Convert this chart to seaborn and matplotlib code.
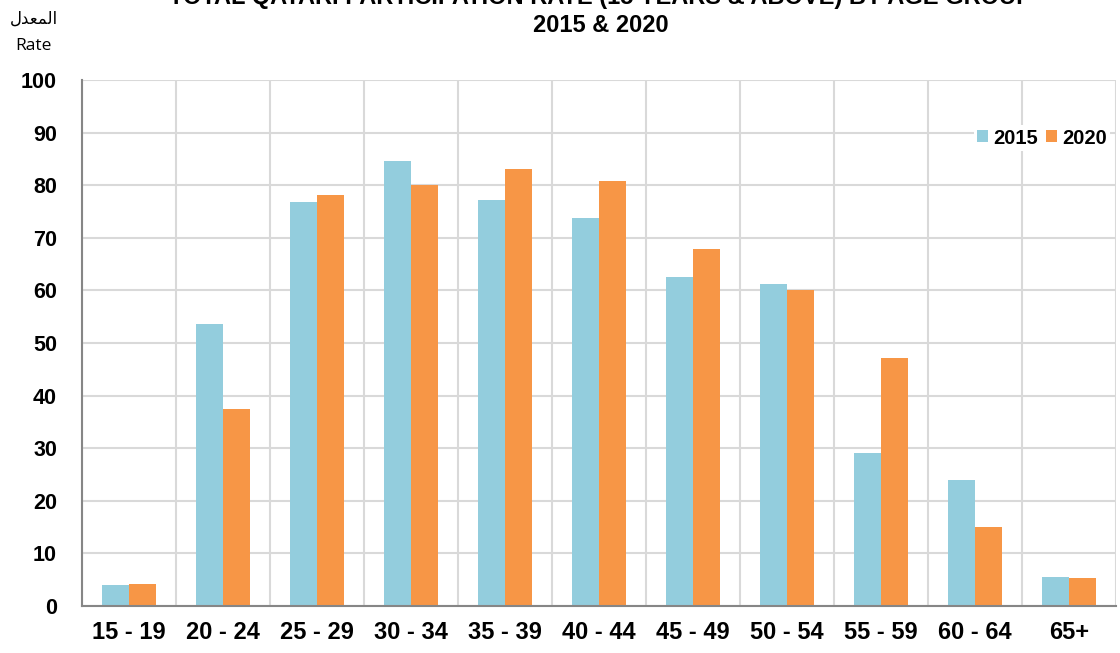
import matplotlib
matplotlib.use("Agg")
import matplotlib.pyplot as plt
import pandas as pd
import seaborn as sns

# data
age_groups = ["15 - 19", "20 - 24", "25 - 29", "30 - 34", "35 - 39", "40 - 44",
              "45 - 49", "50 - 54", "55 - 59", "60 - 64", "65+"]
rate_2015 = [4.0, 53.6, 76.8, 84.6, 77.2, 73.8, 62.5, 61.2, 29.1, 24.0, 5.5]
rate_2020 = [4.2, 37.5, 78.1, 80.0, 83.1, 80.8, 67.9, 60.1, 47.1, 15.0, 5.3]
years = ["2015", "2020"]
colors = ["#93CDDD", "#F79646"]

df = pd.DataFrame({
    "age": age_groups * 2,
    "year": [years[0]] * len(age_groups) + [years[1]] * len(age_groups),
    "rate": rate_2015 + rate_2020,
})

sns.set_style("white")
plt.rcParams["font.family"] = ["Liberation Sans", "DejaVu Sans"]
plt.rcParams["text.color"] = "black"
plt.rcParams["xtick.color"] = "black"
plt.rcParams["ytick.color"] = "black"

fig = plt.figure(figsize=(11.2, 6.53), dpi=100)
ax = fig.add_axes([0.0732, 0.072, 0.9232, 0.8055])

sns.barplot(data=df, x="age", y="rate", hue="year", palette=colors,
            width=0.57, gap=0, linewidth=0, saturation=1, ax=ax)

ax.set_ylim(0, 100)
ax.set_xlim(-0.5, len(age_groups) - 0.5)
ax.set_yticks(range(0, 101, 10))
ax.set_xlabel("")
ax.set_ylabel("")

# category boundaries: vertical grid + outward ticks
ax.set_xticks([i + 0.5 for i in range(-1, len(age_groups))], minor=True)
ax.tick_params(axis="x", which="major", length=0, pad=11)
ax.tick_params(axis="x", which="minor", length=7, width=1.5, color="#868686", direction="out")
ax.tick_params(axis="y", length=7, width=1.5, color="#868686", direction="out", pad=11)
ax.grid(True, axis="y", color="#d9d9d9", linewidth=1.5)
ax.grid(True, axis="x", which="minor", color="#d9d9d9", linewidth=1.5)
ax.set_axisbelow(True)

for lab in ax.get_xticklabels():
    lab.set_fontsize(17)
    lab.set_fontweight("bold")
for lab in ax.get_yticklabels():
    lab.set_fontsize(15.5)
    lab.set_fontweight("bold")

for s in ["top", "right"]:
    ax.spines[s].set_visible(False)
for s in ["left", "bottom"]:
    ax.spines[s].set_color("#868686")
    ax.spines[s].set_linewidth(1.5)

leg = ax.legend(loc="center right", bbox_to_anchor=(1110 / 1120, 1 - 138 / 653),
                bbox_transform=fig.transFigure, ncol=2, frameon=True,
                facecolor="white", edgecolor="none", framealpha=1, fancybox=False,
                borderpad=0.15, borderaxespad=0,
                handlelength=0.55, handleheight=0.55, handletextpad=0.25, columnspacing=0.4,
                prop={"weight": "bold", "size": 14.5})

fig.text(0.536, 1.004, "TOTAL QATARI PARTICIPATION RATE (15 YEARS & ABOVE) BY AGE GROUP",
         ha="center", va="center", fontsize=17, fontweight="bold")
fig.text(0.536, 0.961, "2015 & 2020", ha="center", va="center",
         fontsize=17, fontweight="bold")

# Arabic "المعدل" in shaped presentation forms, visual order
fig.text(0.030, 0.972, "\uFEDD\uFEAA\uFECC\uFEE4\uFEDF\uFE8D", ha="center", va="center",
         fontsize=12, family="DejaVu Sans")
fig.text(0.030, 0.930, "Rate", ha="center", va="center", fontsize=12.5, family="Open Sans")

fig.savefig("out.png", dpi=100)
